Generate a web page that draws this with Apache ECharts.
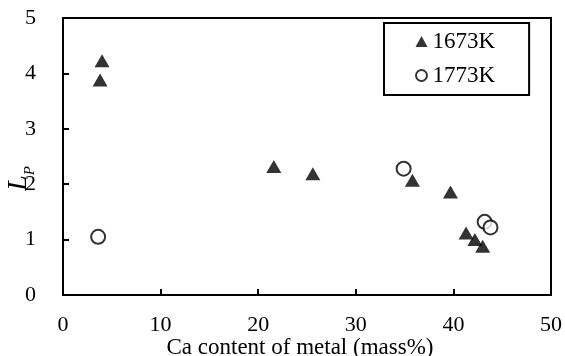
<!DOCTYPE html>
<html><head><meta charset="utf-8">
<script src="https://cdn.jsdelivr.net/npm/echarts@6/dist/echarts.min.js"></script>
<style>html,body{margin:0;padding:0;background:#fff}#c{width:565px;height:356px}</style>
</head><body><div id="c"></div>
<script>
const seriesNames = ['1673K', '1773K'];
const ca1673 = [4.0, 3.8, 21.6, 25.6, 35.8, 39.7, 41.3, 42.2, 43.0];
const lp1673 = [4.23, 3.88, 2.32, 2.19, 2.07, 1.86, 1.12, 1.0, 0.88];
const ca1773 = [3.6, 34.9, 43.2, 43.8];
const lp1773 = [1.05, 2.28, 1.32, 1.22];
const xTicks = [0, 10, 20, 30, 40, 50];
const yTicks = [0, 1, 2, 3, 4, 5];
const xTitle = 'Ca content of metal (mass%)';

const zip = (a, b) => a.map((v, i) => [v, b[i]]);
const F = 'Liberation Serif';
const chart = echarts.init(document.getElementById('c'));
chart.setOption({
  animation: false,
  textStyle: { fontFamily: F, color: '#000' },
  grid: { left: 63, right: 14, top: 18, bottom: 61, show: true, borderColor: '#000', borderWidth: 2, containLabel: false, outerBoundsMode: 'none' },
  xAxis: {
    type: 'value', min: xTicks[0], max: xTicks[xTicks.length - 1], interval: 10,
    axisLine: { lineStyle: { color: '#000', width: 2 } },
    axisTick: { inside: true, length: 6, lineStyle: { color: '#000', width: 2 } },
    splitLine: { show: false },
    axisLabel: { fontFamily: F, fontSize: 22, color: '#000', margin: 19 },
    name: xTitle, nameLocation: 'middle', nameGap: 41, nameMoveOverlap: false,
    nameTextStyle: { fontFamily: F, fontSize: 23, color: '#000', padding: [0, 14, 0, 0] }
  },
  yAxis: {
    type: 'value', min: yTicks[0], max: yTicks[yTicks.length - 1], interval: 1,
    axisLine: { lineStyle: { color: '#000', width: 2 } },
    axisTick: { inside: true, length: 6, lineStyle: { color: '#000', width: 2 } },
    splitLine: { show: false },
    axisLabel: { fontFamily: F, fontSize: 22, color: '#000', margin: 27 },
    name: '{l|L}{p|P}', nameLocation: 'middle', nameGap: 30, nameRotate: 90, nameMoveOverlap: false,
    nameTextStyle: {
      padding: [0, 44, 0, 0],
      rich: {
        l: { fontFamily: F, fontStyle: 'italic', fontSize: 28, lineHeight: 28, color: '#000' },
        p: { fontFamily: F, fontStyle: 'italic', fontSize: 15, lineHeight: 15, verticalAlign: 'bottom', color: '#000', padding: [0, 0, -5, 0] }
      }
    }
  },
  legend: {
    orient: 'vertical', left: 384, top: 23,
    padding: [7, 34, 8, 31], itemGap: 11, itemWidth: 12, itemHeight: 11,
    borderColor: '#000', borderWidth: 2, backgroundColor: '#fff',
    textStyle: { fontFamily: F, fontSize: 23, color: '#000', lineHeight: 22 },
    data: [{ name: seriesNames[0], icon: 'triangle' }, { name: seriesNames[1], icon: 'emptyCircle' }]
  },
  series: [
    {
      name: seriesNames[1], type: 'scatter', symbol: 'emptyCircle', symbolSize: 14,
      itemStyle: { color: '#000', borderColor: '#000', borderWidth: 2.5 },
      data: zip(ca1773, lp1773), z: 2
    },
    {
      name: seriesNames[0], type: 'scatter', symbol: 'triangle', symbolSize: [15, 13],
      itemStyle: { color: '#000' },
      data: zip(ca1673, lp1673), z: 3
    }
  ]
});
</script></body></html>
